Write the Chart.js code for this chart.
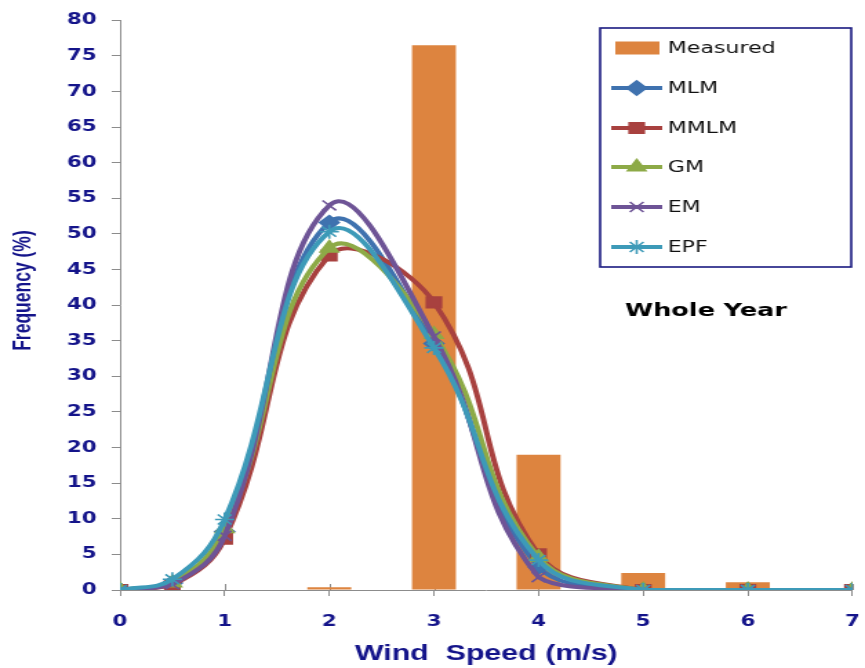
<!DOCTYPE html>
<html>
<head>
<meta charset="utf-8">
<script src="https://cdn.jsdelivr.net/npm/chart.js@4.4.1/dist/chart.umd.min.js"></script>
<style>
  html, body { margin: 0; padding: 0; background: #fff; overflow: hidden; }
  #wrap { width: 627px; height: 668px; transform: scaleX(1.3796); transform-origin: 0 0; }
</style>
</head>
<body>
<div id="wrap"><canvas id="myChart"></canvas></div>
<script>
'use strict';

// wind speed classes (m/s)
var speeds = [0, 0.5, 1, 2, 3, 4, 5, 6, 7];
var barSpeeds = [0, 1, 2, 3, 4, 5, 6, 7];

// frequencies (%)
var measured = [0, 0, 0.4, 76.5, 19.0, 2.4, 1.1, 0.1];
var mlm  = [0, 1.0, 8.2, 51.6, 34.6, 3.2, 0, 0, 0];
var mmlm = [0, 0.7, 7.2, 47.0, 40.4, 5.0, 0, 0, 0];
var gm   = [0, 1.0, 8.6, 48.0, 35.9, 4.6, 0, 0, 0];
var em   = [0, 0.8, 7.6, 54.0, 35.6, 1.8, 0, 0, 0];
var epf  = [0, 1.5, 9.9, 50.3, 34.0, 4.2, 0, 0, 0];

var yTicks = [0, 5, 10, 15, 20, 25, 30, 35, 40, 45, 50, 55, 60, 65, 70, 75, 80];
var xTicks = [0, 1, 2, 3, 4, 5, 6, 7];

var navy = '#14148a';
var axisGrey = '#8c8c8c';

function pairs(xs, ys) {
  var out = [];
  ys.forEach(function(v, i) { out.push({x: xs[i], y: v}); });
  return out;
}

function lineSet(label, values, color, style, radius, order) {
  return {
    type: 'line',
    label: label,
    data: pairs(speeds, values),
    borderColor: color,
    backgroundColor: color,
    borderWidth: 4,
    tension: 0.42,
    pointStyle: style,
    pointRadius: radius,
    pointBorderWidth: 1.6,
    pointBackgroundColor: color,
    pointBorderColor: color,
    order: order
  };
}

// legend drawn inside the plot, with a frame
var boxLegend = {
  id: 'boxLegend',
  afterDraw: function(chart) {
    var ctx = chart.ctx;
    var x0 = 435, y0 = 28, x1 = 617, y1 = 267;
    ctx.save();
    ctx.strokeStyle = '#1a1a80';
    ctx.lineWidth = 1.6;
    ctx.strokeRect(x0, y0, x1 - x0, y1 - y0);

    var rows = [48, 88, 128, 167, 207, 247];
    var sets = chart.data.datasets;
    ctx.font = '16px "DejaVu Sans"';
    ctx.textBaseline = 'middle';
    ctx.textAlign = 'left';
    sets.forEach(function(ds, i) {
      var y = rows[i];
      if (ds.type === 'bar') {
        ctx.fillStyle = ds.backgroundColor;
        ctx.fillRect(446, y - 6.5, 32, 13);
      } else {
        ctx.strokeStyle = ds.borderColor;
        ctx.lineWidth = 4;
        ctx.beginPath();
        ctx.moveTo(443, y);
        ctx.lineTo(480, y);
        ctx.stroke();
        ctx.fillStyle = ds.borderColor;
        ctx.lineWidth = ds.pointBorderWidth;
        Chart.helpers.drawPoint(ctx, {
          pointStyle: ds.pointStyle,
          radius: ds.pointRadius,
          rotation: 0,
          borderWidth: ds.pointBorderWidth
        }, 461.5, y);
      }
      ctx.fillStyle = '#111';
      ctx.fillText(ds.label, 484, y + 1);
    });

    ctx.font = 'bold 18.5px "DejaVu Sans"';
    ctx.fillStyle = '#000';
    ctx.fillText('Whole Year', 453, 311);
    ctx.restore();
  }
};

// x-axis ticks cross the axis line
var innerTicks = {
  id: 'innerTicks',
  beforeDatasetsDraw: function(chart) {
    var ctx = chart.ctx;
    var xs = chart.scales.x;
    var bottom = chart.chartArea.bottom;
    ctx.save();
    ctx.strokeStyle = axisGrey;
    ctx.lineWidth = 1;
    xTicks.forEach(function(v) {
      var px = Math.round(xs.getPixelForValue(v)) + 0.5;
      ctx.beginPath();
      ctx.moveTo(px, bottom);
      ctx.lineTo(px, bottom - 6);
      ctx.stroke();
    });
    ctx.restore();
  }
};

var ctx = document.getElementById('myChart');

var myChart = new Chart(ctx, {
  data: {
    datasets: [
      {
        type: 'bar',
        label: 'Measured',
        data: pairs(barSpeeds, measured),
        backgroundColor: '#dd843f',
        borderWidth: 0,
        barPercentage: 1,
        categoryPercentage: 0.42,
        order: 6
      },
      lineSet('MLM', mlm, '#3f72af', 'rectRot', 7, 5),
      lineSet('MMLM', mmlm, '#a8413f', 'rect', 7.5, 4),
      lineSet('GM', gm, '#8daa47', 'triangle', 7.5, 3),
      lineSet('EM', em, '#6e5496', 'crossRot', 7, 2),
      lineSet('EPF', epf, '#3d9ab8', 'star', 7, 1)
    ]
  },
  options: {
    responsive: true,
    maintainAspectRatio: false,
    animation: false,
    events: [],
    layout: { padding: { top: 17, right: 6, left: 0, bottom: 0 } },
    plugins: {
      legend: { display: false },
      tooltip: { enabled: false }
    },
    scales: {
      x: {
        type: 'linear',
        min: 0,
        max: 7,
        offset: false,
        afterBuildTicks: function(scale) {
          scale.ticks = xTicks.map(function(v) { return {value: v}; });
        },
        afterFit: function(scale) {
          scale.height = 78;
          scale.paddingRight = 0;
          scale.paddingLeft = 0;
        },
        grid: { display: true, drawOnChartArea: false, offset: false, color: axisGrey, tickLength: 6 },
        border: { color: axisGrey, width: 1 },
        ticks: {
          color: navy,
          padding: 17,
          maxRotation: 0,
          font: { family: '"DejaVu Sans"', weight: 'bold', size: 15.5 }
        },
        title: {
          display: true,
          text: 'Wind  Speed (m/s)',
          color: navy,
          padding: { top: 0, bottom: 1 },
          font: { family: '"Liberation Sans", Arial', weight: 'bold', size: 22 }
        }
      },
      y: {
        min: 0,
        max: 80,
        afterBuildTicks: function(scale) {
          scale.ticks = yTicks.map(function(v) { return {value: v}; });
        },
        afterFit: function(scale) { scale.width = 87; },
        grid: { display: true, drawOnChartArea: false, color: axisGrey, tickLength: 6 },
        border: { color: axisGrey, width: 1 },
        ticks: {
          color: navy,
          padding: 11,
          font: { family: '"DejaVu Sans"', weight: 'bold', size: 15.5 }
        },
        title: {
          display: true,
          text: '      Frequency (%)',
          color: navy,
          padding: { top: 7, bottom: 0 },
          font: { family: '"Liberation Sans", Arial', weight: 'bold', size: 17.5 }
        }
      }
    }
  },
  plugins: [innerTicks, boxLegend]
});
</script>
</body>
</html>
